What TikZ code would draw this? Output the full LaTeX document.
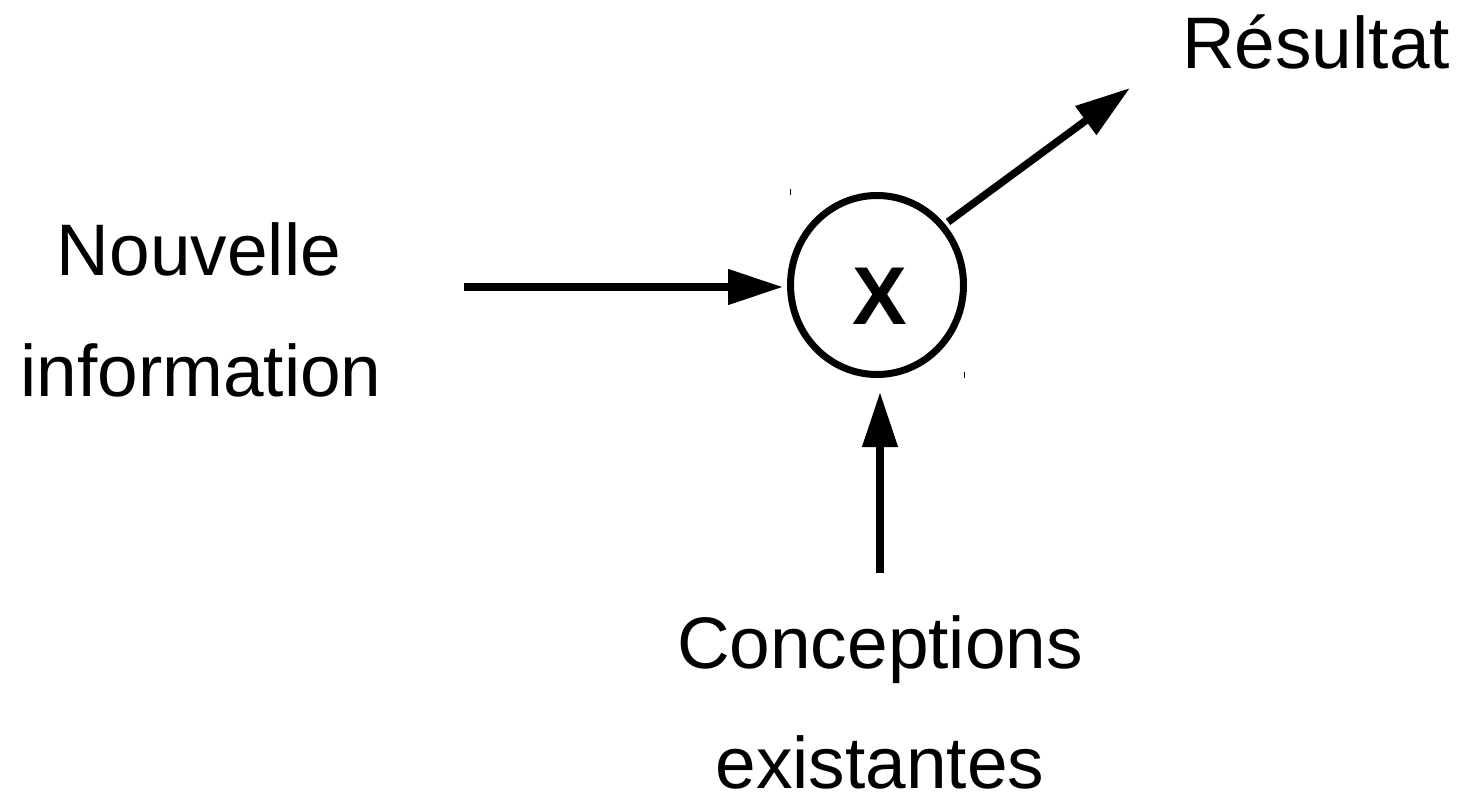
\documentclass[tikz,border=0pt]{standalone}
\usepackage{fontspec}
\setmainfont{Liberation Sans}
\usetikzlibrary{arrows.meta,shapes.geometric}
\tikzset{
  lbl/.style={anchor=base,inner sep=0pt,font=\fontsize{73}{73}\selectfont},
  arr/.style={line width=7.5pt,-{Triangle[length=55pt,width=34pt]}},
  tick/.style={line width=1pt}
}
\begin{document}
\begin{tikzpicture}[x=1pt,y=-1pt]
\useasboundingbox (0,0) rectangle (1461,792);
\node[ellipse,draw,line width=7pt,minimum width=173pt,minimum height=179pt,inner sep=0pt,outer sep=3.5pt] (c) at (877,285) {};
\node[anchor=base,inner sep=0pt,font=\fontsize{82}{82}\selectfont\bfseries] (x) at (880,324) {X};
\node[lbl] (n1) at (199,275) {Nouvelle};
\node[lbl] (n2) at (201,396) {information};
\node[lbl] (r) at (1316,68) {Résultat};
\node[lbl] (c1) at (880,668) {Conceptions};
\node[lbl] (c2) at (880,788) {existantes};
\coordinate (inS) at (464,287);
\coordinate (inE) at (783,287);
\coordinate (upS) at (880,573);
\coordinate (upE) at (880,392);
\coordinate (dS) at (948,222);
\coordinate (dE) at (1130,88);
\draw[arr] (inS) -- (inE);
\draw[arr] (upS) -- (upE);
\draw[arr] (dS) -- (dE);
\draw[tick] (790,189) -- (790,195);
\draw[tick] (964,372) -- (964,378);
\end{tikzpicture}
\end{document}
